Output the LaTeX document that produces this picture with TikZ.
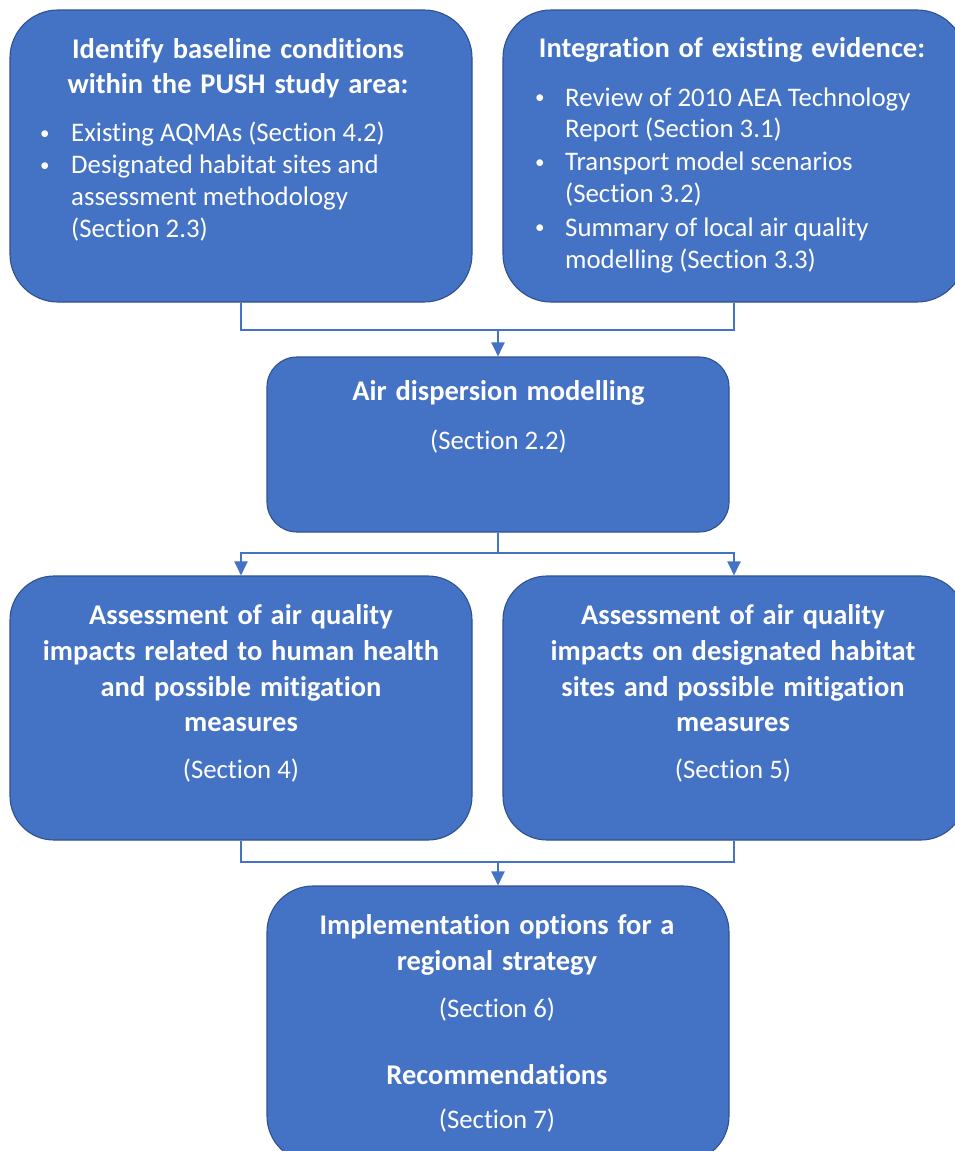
\documentclass[tikz,border=0pt]{standalone}
\usepackage{fontspec}
\setmainfont{Carlito}[Ligatures=NoCommon]
\usetikzlibrary{arrows.meta}
\definecolor{boxfill}{HTML}{4472C4}
\definecolor{boxline}{HTML}{2F528F}
\definecolor{conn}{HTML}{4472C4}
\newcommand\headfont{\fontsize{28.5}{34}\selectfont\bfseries\spaceskip=0.31em\relax}
\tikzset{
  box/.style={draw=boxline, line width=1.1pt, fill=boxfill, inner sep=0pt},
  head/.style={inner sep=0pt, anchor=base, text=white, font=\headfont},
  body/.style={inner sep=0pt, anchor=base, text=white, font=\fontsize{26.8}{32}\selectfont},
  bodyl/.style={body, anchor=base west},
  bul/.style={inner sep=0pt, anchor=base west, text=white, font=\fontsize{19}{24}\selectfont},
  link/.style={draw=conn, line width=2pt},
  arr/.style={link, -{Triangle[width=13pt,length=14pt]}}
}
\begin{document}
\begin{tikzpicture}[x=1pt,y=-1pt]
\useasboundingbox (0,0) rectangle (955,1151);
\clip (0,0) rectangle (955,1151);

% boxes
\node[box, minimum width=462pt, minimum height=292pt, rounded corners=48pt] (A) at (241,156) {};
\node[box, minimum width=462pt, minimum height=292pt, rounded corners=48pt] (B) at (734,156) {};
\node[box, minimum width=462pt, minimum height=175pt, rounded corners=30pt] (C) at (498,444.5) {};
\node[box, minimum width=462pt, minimum height=264pt, rounded corners=44pt] (D) at (241,708) {};
\node[box, minimum width=462pt, minimum height=264pt, rounded corners=44pt] (E) at (734,708) {};
\node[box, minimum width=462pt, minimum height=276pt, rounded corners=46pt] (F) at (498,1024) {};

% connectors
\coordinate (j1) at (498,330);
\coordinate (j2) at (498,553);
\coordinate (j3) at (498,862);
\draw[link] (A.south) |- (j1) -| (B.south);
\draw[arr] (j1) -- (C.north);
\draw[link] (C.south) -- (j2);
\draw[arr] (j2) -| (D.north);
\draw[arr] (j2) -| (E.north);
\draw[link] (D.south) |- (j3) -| (E.south);
\draw[arr] (j3) -- (F.north);

% box A text
\node[head] (a1) at (238,58) {Identify baseline conditions};
\node[head] (a2) at (238,93) {within the PUSH study area:};
\node[bul] (ab1) at (40,139.5) {•};
\node[bul] (ab2) at (40,171.3) {•};
\node[bodyl] (a3) at (71,141.7) {Existing AQMAs (Section 4.2)};
\node[bodyl] (a4) at (71,173.5) {Designated habitat sites and};
\node[bodyl] (a5) at (71,205.5) {assessment methodology};
\node[bodyl] (a6) at (71,237.5) {(Section 2.3)};

% box B text
\node[head] (b1) at (732,57.5) {Integration of existing evidence:};
\node[bul] (bb1) at (535,103.8) {•};
\node[bul] (bb2) at (535,168.3) {•};
\node[bul] (bb3) at (535,233.8) {•};
\node[bodyl] (b2) at (565,106) {Review of 2010 AEA Technology};
\node[bodyl] (b3) at (565,137.5) {Report (Section 3.1)};
\node[bodyl] (b4) at (565,170.5) {Transport model scenarios};
\node[bodyl] (b5) at (565,202.5) {(Section 3.2)};
\node[bodyl] (b6) at (565,236) {Summary of local air quality};
\node[bodyl] (b7) at (565,268) {modelling (Section 3.3)};

% box C text
\node[head] (c1) at (498.5,400.7) {Air dispersion modelling};
\node[body] (c2) at (498.5,449) {(Section 2.2)};

% box D text
\node[head] (d1) at (241,624.3) {Assessment of air quality};
\node[head] (d2) at (241,660.7) {impacts related to human health};
\node[head] (d3) at (241,696.7) {and possible mitigation};
\node[head] (d4) at (241,731.7) {measures};
\node[body] (d5) at (241,778.3) {(Section 4)};

% box E text
\node[head] (e1) at (733,624.3) {Assessment of air quality};
\node[head] (e2) at (733,660.7) {impacts on designated habitat};
\node[head] (e3) at (733,696.7) {sites and possible mitigation};
\node[head] (e4) at (733,731.7) {measures};
\node[body] (e5) at (733,778.3) {(Section 5)};

% box F text
\node[head] (f1) at (497,934) {Implementation options for a};
\node[head] (f2) at (497,970.7) {regional strategy};
\node[body] (f3) at (497,1017) {(Section 6)};
\node[head] (f4) at (497,1084) {Recommendations};
\node[body] (f5) at (497,1128) {(Section 7)};
\end{tikzpicture}
\end{document}
